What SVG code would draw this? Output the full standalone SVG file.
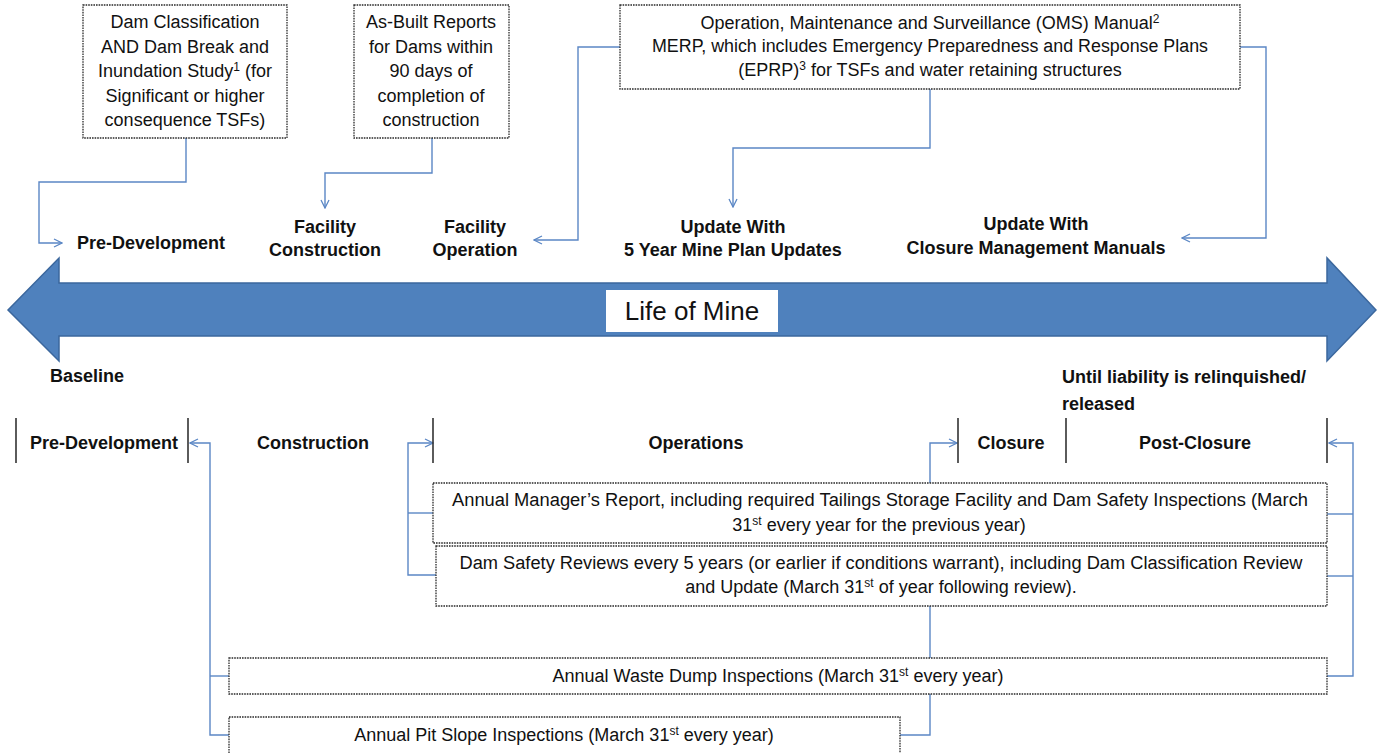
<svg xmlns="http://www.w3.org/2000/svg" width="1377" height="753" viewBox="0 0 1377 753">
<style>
text{font-family:"Liberation Sans",Arial,sans-serif;fill:#111;}
.t{font-size:18px;}
.b{font-size:18px;font-weight:bold;}
.m{text-anchor:middle;}
.box{fill:#fff;stroke:#2a2a2a;stroke-width:1.3;stroke-dasharray:1.6 1;}
.con{fill:none;stroke:#5b87c5;stroke-width:1.4;}
.tick{stroke:#333;stroke-width:1.6;}
</style>
<defs>
<marker id="ah" viewBox="0 0 10 10" refX="9" refY="5" markerWidth="10" markerHeight="10" markerUnits="userSpaceOnUse" orient="auto">
<path d="M1,1 L9,5 L1,9" fill="none" stroke="#5b87c5" stroke-width="1.3"/>
</marker>
</defs>
<rect width="1377" height="753" fill="#fff"/>

<g id="life-of-mine">
<path d="M8,310 L59,258 L59,283 L1327,283 L1327,258 L1376,310 L1327,361 L1327,336 L59,336 L59,361 Z" fill="#4f81bd" stroke="#3b679d" stroke-width="1.5"/>
<rect x="606" y="290" width="172" height="42" fill="#fff"/>
<text x="692" y="320" class="m" style="font-size:26px">Life of Mine</text>
</g>

<g id="connectors">
<path class="con" d="M186,138 V182 H39 V243 H62" marker-end="url(#ah)"/>
<path class="con" d="M432,138 V173 H325 V208" marker-end="url(#ah)"/>
<path class="con" d="M620,47 H578 V240 H534" marker-end="url(#ah)"/>
<path class="con" d="M930,89 V148 H733 V207" marker-end="url(#ah)"/>
<path class="con" d="M1240,47 H1266 V238 H1182" marker-end="url(#ah)"/>
<path class="con" d="M229,735 H210 V443 H190" marker-end="url(#ah)"/>
<path class="con" d="M210,676 H229"/>
<path class="con" d="M436,575 H408 V443 H433" marker-end="url(#ah)"/>
<path class="con" d="M408,513 H433"/>
<path class="con" d="M930,483 V443 H957" marker-end="url(#ah)"/>
<path class="con" d="M930,606 V658"/>
<path class="con" d="M930,694 V735 H900"/>
<path class="con" d="M1327,676 H1353 V443 H1329" marker-end="url(#ah)"/>
<path class="con" d="M1327,514 H1353"/>
<path class="con" d="M1327,576 H1353"/>
</g>

<g id="dam-classification">
<rect class="box" x="83" y="5" width="204" height="133"/>
<text class="t m" x="185" y="28">Dam Classification</text>
<text class="t m" x="185" y="53">AND Dam Break and</text>
<text class="t m" x="185" y="77">Inundation Study<tspan dy="-6" font-size="12">1</tspan><tspan dy="6"> (for</tspan></text>
<text class="t m" x="185" y="102">Significant or higher</text>
<text class="t m" x="185" y="126">consequence TSFs)</text>
</g>

<g id="as-built">
<rect class="box" x="354" y="5" width="155" height="133"/>
<text class="t m" x="431" y="28">As-Built Reports</text>
<text class="t m" x="431" y="53">for Dams within</text>
<text class="t m" x="431" y="77">90 days of</text>
<text class="t m" x="431" y="102">completion of</text>
<text class="t m" x="431" y="126">construction</text>
</g>

<g id="oms">
<rect class="box" x="620" y="5" width="620" height="84"/>
<text class="t m" x="930" y="29">Operation, Maintenance and Surveillance (OMS) Manual<tspan dy="-6" font-size="12">2</tspan></text>
<text class="t m" x="930" y="52" textLength="556" lengthAdjust="spacingAndGlyphs">MERP, which includes Emergency Preparedness and Response Plans</text>
<text class="t m" x="930" y="76">(EPRP)<tspan dy="-6" font-size="12">3</tspan><tspan dy="6"> for TSFs and water retaining structures</tspan></text>
</g>

<g id="top-labels">
<text class="b" x="77" y="249">Pre-Development</text>
<text class="b m" x="325" y="233">Facility</text>
<text class="b m" x="325" y="256">Construction</text>
<text class="b m" x="475" y="233">Facility</text>
<text class="b m" x="475" y="256">Operation</text>
<text class="b m" x="733" y="233">Update With</text>
<text class="b m" x="733" y="256">5 Year Mine Plan Updates</text>
<text class="b m" x="1036" y="230">Update With</text>
<text class="b m" x="1036" y="254">Closure Management Manuals</text>
</g>

<g id="phases">
<text class="b" x="50" y="382">Baseline</text>
<text class="b" x="1062" y="383">Until liability is relinquished/</text>
<text class="b" x="1062" y="410">released</text>
<line class="tick" x1="16" y1="418" x2="16" y2="463"/>
<line class="tick" x1="188" y1="418" x2="188" y2="463"/>
<line class="tick" x1="433" y1="418" x2="433" y2="463"/>
<line class="tick" x1="958" y1="418" x2="958" y2="463"/>
<line class="tick" x1="1066" y1="418" x2="1066" y2="463"/>
<line class="tick" x1="1327" y1="418" x2="1327" y2="463"/>
<text class="b" x="30" y="449">Pre-Development</text>
<text class="b m" x="313" y="449">Construction</text>
<text class="b m" x="696" y="449">Operations</text>
<text class="b m" x="1011" y="449">Closure</text>
<text class="b m" x="1195" y="449">Post-Closure</text>
</g>

<g id="annual-manager">
<rect class="box" x="433" y="483" width="894" height="60"/>
<text class="t m" x="880" y="506" textLength="856" lengthAdjust="spacingAndGlyphs">Annual Manager’s Report, including required Tailings Storage Facility and Dam Safety Inspections (March</text>
<text class="t m" x="879" y="531">31<tspan dy="-6" font-size="12">st</tspan><tspan dy="6"> every year for the previous year)</tspan></text>
</g>

<g id="dam-safety">
<rect class="box" x="436" y="546" width="891" height="60"/>
<text class="t m" x="881" y="569" textLength="843" lengthAdjust="spacingAndGlyphs">Dam Safety Reviews every 5 years (or earlier if conditions warrant), including Dam Classification Review</text>
<text class="t m" x="881" y="593">and Update (March 31<tspan dy="-6" font-size="12">st</tspan><tspan dy="6"> of year following review).</tspan></text>
</g>

<g id="waste-dump">
<rect class="box" x="229" y="658" width="1098" height="36"/>
<text class="t m" x="778" y="682">Annual Waste Dump Inspections (March 31<tspan dy="-6" font-size="12">st</tspan><tspan dy="6"> every year)</tspan></text>
</g>

<g id="pit-slope">
<rect class="box" x="229" y="717" width="671" height="40"/>
<text class="t m" x="564" y="741">Annual Pit Slope Inspections (March 31<tspan dy="-6" font-size="12">st</tspan><tspan dy="6"> every year)</tspan></text>
</g>
</svg>
